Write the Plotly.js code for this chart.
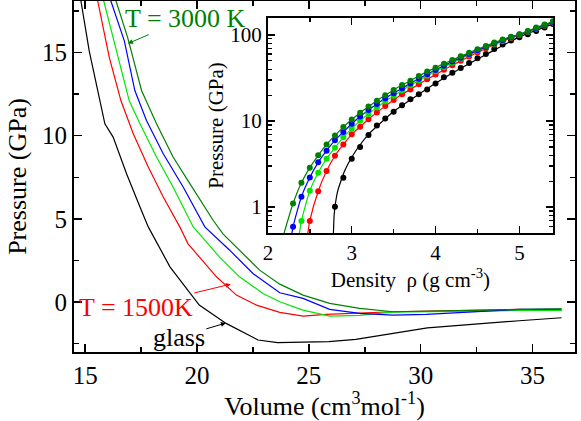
<!DOCTYPE html>
<html><head><meta charset="utf-8">
<script src="https://cdn.plot.ly/plotly-3.0.1.min.js"></script>
<style>html,body{margin:0;padding:0;background:#fff}#plot{width:581px;height:421px}</style>
</head><body><div id="plot"></div>
<script>
// ---- Main panel: pressure vs molar volume ----
const volGlass = [14.7, 14.81, 15.18, 15.6, 15.88, 16.25, 16.85, 17.45, 17.82, 18.79, 20.1, 21.3, 22.73, 23.6, 25.9, 27.1, 30.3, 34.4, 36.3];
const presGlass = [18.9, 18.1, 15.1, 12.5, 10.72, 9.92, 7.72, 5.72, 4.52, 2.12, -0.18, -1.28, -2.28, -2.44, -2.38, -2.24, -1.55, -1.12, -0.94];
const vol1500 = [15.45, 15.56, 16.08, 16.6, 17.15, 17.82, 18.49, 19.23, 19.6, 20.87, 21.76, 22.66, 23.7, 24.74, 25.78, 28.74, 34.4, 36.3];
const pres1500 = [18.9, 18.1, 14.7, 12.1, 10.12, 8.12, 6.32, 4.52, 3.5, 1.52, 0.42, -0.18, -0.62, -0.84, -0.74, -0.58, -0.44, -0.5];
const volT2 = [15.7, 15.83, 16.4, 16.97, 17.45, 18.19, 18.93, 19.83, 21.0, 21.9, 22.95, 23.7, 24.74, 25.93, 27.27, 28.74, 34.4, 36.3];
const presT2 = [19.0, 18.1, 15.1, 12.1, 10.72, 8.72, 6.92, 4.52, 2.72, 1.52, 0.52, 0.02, -0.48, -0.84, -0.8, -0.6, -0.5, -0.5];
const volT3 = [16.0, 16.15, 16.75, 17.22, 17.74, 18.49, 19.38, 20.35, 21.46, 22.5, 23.7, 24.74, 25.93, 27.27, 28.76, 30.25, 34.4, 36.3];
const presT3 = [19.0, 18.1, 15.7, 12.72, 10.92, 8.92, 6.92, 4.52, 3.12, 1.72, 0.56, 0.22, -0.44, -0.68, -0.78, -0.74, -0.44, -0.42];
const vol3000 = [16.2, 16.38, 16.9, 17.52, 18.19, 18.93, 19.68, 20.72, 21.16, 22.06, 22.8, 23.7, 24.74, 25.93, 27.27, 28.76, 34.4, 36.3];
const pres3000 = [19.0, 18.1, 15.9, 12.72, 10.72, 8.72, 7.12, 4.92, 4.1, 2.9, 1.92, 1.08, 0.42, -0.08, -0.38, -0.58, -0.44, -0.4];

// ---- Inset: pressure vs density (points) ----
const rho3000 = [2.3,2.4,2.5,2.6,2.7,2.8,2.9,3.0,3.1,3.2,3.3,3.4,3.5,3.6,3.7,3.8,3.9,4.0,4.1,4.2,4.3,4.4,4.5,4.6,4.7,4.8,4.9,5.0,5.1,5.2,5.3,5.4];
const p3000 = [1.10,1.92,2.87,3.99,5.35,6.8,8.5,10.4,12.5,14.7,17.2,19.9,23.0,26.2,29.4,33.4,37.5,41.7,46.4,51.2,56.5,62.3,68.1,74.5,81.5,88.3,95.6,102,111,122,132,144];
const rhoT3 = [2.3,2.4,2.5,2.6,2.7,2.8,2.9,3.0,3.1,3.2,3.3,3.4,3.5,3.6,3.7,3.8,3.9,4.0,4.1,4.2,4.3,4.4,4.5,4.6,4.7,4.8,4.9,5.0,5.1,5.2,5.3,5.4];
const pT3 = [0.59,1.32,2.21,3.31,4.52,5.96,7.45,9.3,11.3,13.4,15.8,18.4,21.0,24.0,27.3,31.0,35.0,39.2,44.0,49.0,54.5,60.2,66.2,72.5,79.5,86.5,94,101,110,120,130,141];
const rhoT2 = [2.4,2.5,2.6,2.7,2.8,2.9,3.0,3.1,3.2,3.3,3.4,3.5,3.6,3.7,3.8,3.9,4.0,4.1,4.2,4.3,4.4,4.5,4.6,4.7,4.8,4.9,5.0,5.1,5.2,5.3,5.4];
const pT2 = [0.69,1.55,2.51,3.65,4.9,6.46,8.15,10.1,12.1,14.4,16.9,19.6,22.6,26.0,29.6,33.5,37.8,42.5,47.5,53.0,58.8,65.0,71.5,78.5,85.8,93.5,100.5,109,119,129,140];
const rho1500 = [2.5,2.6,2.7,2.8,2.9,3.0,3.1,3.2,3.3,3.4,3.5,3.6,3.7,3.8,3.9,4.0,4.1,4.2,4.3,4.4,4.5,4.6,4.7,4.8,4.9,5.0,5.1,5.2,5.3,5.4];
const p1500 = [0.69,1.53,2.62,3.95,5.35,7.0,8.6,10.5,12.6,14.9,17.5,20.4,23.3,26.8,30.5,34.7,39.3,44.5,50.0,56.0,62.5,69.5,77,84.5,92,99.5,108,118,128,139];
const rhoGlass = [2.8,2.9,3.0,3.1,3.2,3.3,3.4,3.5,3.6,3.7,3.8,3.9,4.0,4.1,4.2,4.3,4.4,4.5,4.6,4.7,4.8,4.9,5.0,5.1,5.2,5.3,5.4];
const pGlass = [1.01,2.19,3.65,5.0,6.87,8.9,10.7,12.8,15.2,17.9,20.4,23.3,27.2,32.2,36.5,41.4,47.2,53.6,60.1,68.7,77.2,86,94,102,111,122,134];
// inset fit lines: lower starting points (where the fit meets the bottom of the inset)
const startRho = {c3000: 2.18, cT3: 2.28, cT2: 2.37, c1500: 2.47};
const startP = 0.45;
const fitRhoGlass = [2.78,2.79,2.8,2.83,2.87,2.92,3.0,3.1,3.2,3.35,3.5,3.7,4.0,4.3,4.6,5.0,5.4];
const fitPGlass = [0.45,0.8,1.0,1.5,2.0,2.7,3.8,5.3,7.0,9.6,12.9,17.6,27.5,41,59,95,134];

const cDark = '#008000', cLight = '#00e600', cBlue = '#0000ff', cRed = '#ff0000', cBlack = '#000000';
const lw = 1.2;

function mainLine(x, y, c) { return {x, y, mode: 'lines', line: {color: c, width: lw}, xaxis: 'x', yaxis: 'y', hoverinfo: 'skip'}; }
function insetLine(x, y, c) { return {x, y, mode: 'lines', line: {color: c, width: lw, shape: 'spline', smoothing: 0.6}, xaxis: 'x2', yaxis: 'y2', hoverinfo: 'skip'}; }
function insetPts(x, y, c) { return {x, y, mode: 'markers', marker: {color: c, size: 6}, xaxis: 'x2', yaxis: 'y2', hoverinfo: 'skip'}; }

const traces = [
  mainLine(volGlass, presGlass, cBlack),
  mainLine(vol1500, pres1500, cRed),
  mainLine(volT2, presT2, cLight),
  mainLine(volT3, presT3, cBlue),
  mainLine(vol3000, pres3000, cDark),
  insetLine(fitRhoGlass, fitPGlass, cBlack),
  insetLine([startRho.c1500].concat(rho1500), [startP].concat(p1500), cRed),
  insetLine([startRho.cT2].concat(rhoT2), [startP].concat(pT2), cLight),
  insetLine([startRho.cT3].concat(rhoT3), [startP].concat(pT3), cBlue),
  insetLine([startRho.c3000].concat(rho3000), [startP].concat(p3000), cDark),
  insetPts(rhoGlass, pGlass, cBlack),
  insetPts(rho1500, p1500, cRed),
  insetPts(rhoT2, pT2, cLight),
  insetPts(rhoT3, pT3, cBlue),
  insetPts(rho3000, p3000, cDark)
];

const serif = 'Liberation Serif';
const axBase = {showline: true, linecolor: '#000', linewidth: 2, mirror: 'allticks', ticks: 'inside', tickcolor: '#000', tickwidth: 1.5, showgrid: false, zeroline: false};

const layout = {
  width: 581, height: 421,
  margin: {l: 74, r: 6, t: 1, b: 69},
  paper_bgcolor: '#fff', plot_bgcolor: '#fff',
  showlegend: false,
  font: {family: serif, color: '#000', size: 25},
  xaxis: Object.assign({}, axBase, {
    range: [14.5, 36.9], tickvals: [15, 20, 25, 30, 35], ticklen: 8,
    minor: {tickvals: [17.5, 22.5, 27.5, 32.5], ticks: 'inside', ticklen: 5, tickcolor: '#000', tickwidth: 1.5},
    tickfont: {size: 25, family: serif, color: '#000'},
    title: {text: 'Volume (cm<sup>3</sup>mol<sup>-1</sup>)', font: {size: 26, family: serif, color: '#000'}, standoff: 6}
  }),
  yaxis: Object.assign({}, axBase, {
    range: [-3, 18.1], tickvals: [0, 5, 10, 15], ticklen: 8,
    minor: {tickvals: [-2.5, 2.5, 7.5, 12.5, 17.5], ticks: 'inside', ticklen: 5, tickcolor: '#000', tickwidth: 1.5},
    tickfont: {size: 25, family: serif, color: '#000'},
    title: {text: 'Pressure (GPa)', font: {size: 26, family: serif, color: '#000'}, standoff: 8}
  }),
  xaxis2: Object.assign({}, axBase, {
    domain: [0.387, 0.956], anchor: 'y2', range: [2, 5.4], tickvals: [2, 3, 4, 5], ticklen: 7,
    minor: {tickvals: [2.5, 3.5, 4.5], ticks: 'inside', ticklen: 4, tickcolor: '#000', tickwidth: 1.5},
    tickfont: {size: 21, family: serif, color: '#000'},
    title: {text: 'Density  \u03c1 (g cm<sup>-3</sup>)', font: {size: 21, family: serif, color: '#000'}, standoff: 0}
  }),
  yaxis2: Object.assign({}, axBase, {
    domain: [0.339, 0.952], anchor: 'x2', type: 'log', range: [Math.log10(0.5), Math.log10(158)],
    tickvals: [1, 10, 100], ticktext: ['1', '10', '100'], ticklen: 7,
    minor: {tickvals: [0.5,0.6,0.7,0.8,0.9,2,3,4,5,6,7,8,9,20,30,40,50,60,70,80,90,200], ticks: 'inside', ticklen: 4, tickcolor: '#000', tickwidth: 1.2},
    tickfont: {size: 21, family: serif, color: '#000'},
    title: {text: 'Pressure (GPa)', font: {size: 21, family: serif, color: '#000'}, standoff: 1}
  }),
  annotations: [
    {x: 16.91, y: 15.54, xref: 'x', yref: 'y', text: 'T = 3000 K', font: {size: 26, color: cDark, family: serif},
     showarrow: true, arrowhead: 2, arrowsize: 1, arrowwidth: 1, arrowcolor: cDark, ax: 58, ay: -25},
    {x: 21.51, y: 1.08, xref: 'x', yref: 'y', text: 'T = 1500K', font: {size: 26, color: cRed, family: serif},
     showarrow: true, arrowhead: 2, arrowsize: 1, arrowwidth: 1, arrowcolor: cRed, ax: -95, ay: 23},
    {x: 21.29, y: -1.26, xref: 'x', yref: 'y', text: 'glass', font: {size: 26, color: cBlack, family: serif},
     showarrow: true, arrowhead: 2, arrowsize: 1, arrowwidth: 1, arrowcolor: cBlack, ax: -47, ay: 14}
  ]
};

Plotly.newPlot('plot', traces, layout, {staticPlot: true, displayModeBar: false});
</script>
</body></html>
